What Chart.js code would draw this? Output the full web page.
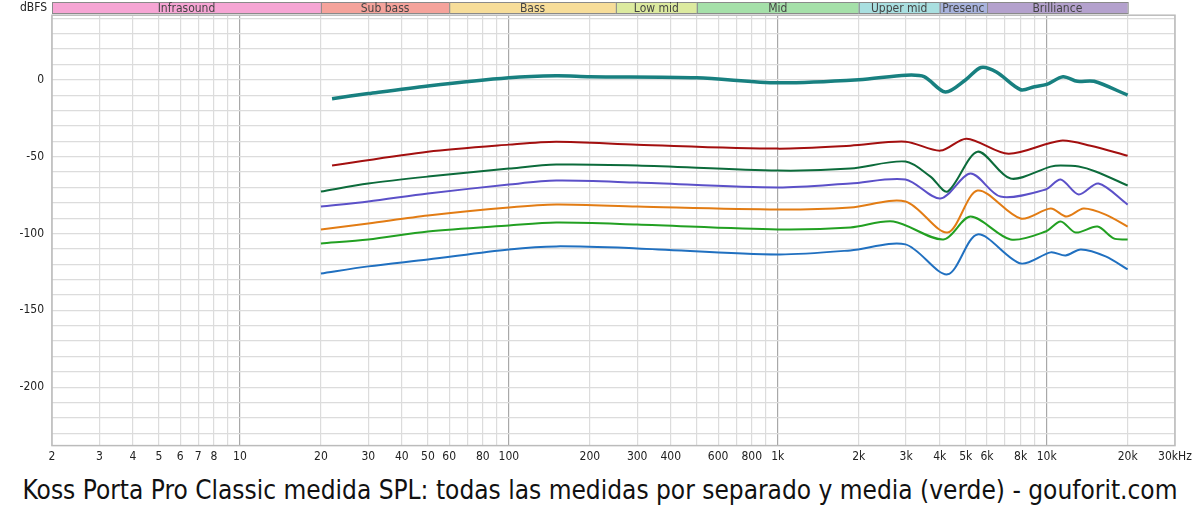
<!DOCTYPE html>
<html><head><meta charset="utf-8">
<script src="https://cdn.jsdelivr.net/npm/chart.js@4/dist/chart.umd.min.js"></script>
<style>
html,body{margin:0;padding:0;background:#fff;}
#wrap{position:relative;width:1200px;height:511px;}
#title{position:absolute;left:0;top:475px;width:1200px;text-align:center;font-family:"DejaVu Sans Condensed","DejaVu Sans";font-size:26px;color:#111;white-space:nowrap;}
</style></head><body>
<div id="wrap"><canvas id="c" width="1200" height="470"></canvas>
<div id="title">Koss Porta Pro Classic medida SPL: todas las medidas por separado y media (verde) - gouforit.com</div></div>
<script>
const xTickLabels = {2:'2',3:'3',4:'4',5:'5',6:'6',7:'7',8:'8',10:'10',20:'20',30:'30',40:'40',50:'50',60:'60',80:'80',100:'100',200:'200',300:'300',400:'400',600:'600',800:'800',1000:'1k',2000:'2k',3000:'3k',4000:'4k',5000:'5k',6000:'6k',8000:'8k',10000:'10k',20000:'20k',30000:'30kHz'};
const bandNames = ['Infrasound','Sub bass','Bass','Low mid','Mid','Upper mid','Presenc','Brilliance'];
const bandEdges = [2,20,60,250,500,2000,4000,6000,20000];
const bandColors = ['#f6a5d4','#f5a39b','#f7dd99','#dcea9f','#a5e0a9','#a9dfe0','#a8b3dd','#b4a1cd'];

const meanFreq = [22,30,50,100,150,200,500,1000,2000,3000,3500,4200,5000,5700,6500,8000,9000,10000,11500,13000,15000,20000];
const meanDb   = [-12.3,-9,-4,1.3,2.6,2,1.3,-2,0,3,2,-8,0,8,5,-6.5,-4.5,-3,2,-1,-1,-10];

const redFreq = [22,50,100,150,300,1000,1862,2985,4027,5035,7210,11270,14560,20000];
const redDb   = [-55.8,-46.8,-42.2,-40.3,-42.2,-44.8,-42.9,-40.3,-46.1,-38.3,-48.1,-39.6,-42.9,-49.4];

const dgFreq = [20,30,50,100,150,300,1000,1862,2985,3698,4278,5530,7340,10350,11270,13150,15200,20000];
const dgDb   = [-72.7,-67.5,-63,-57.8,-55.2,-55.8,-59.1,-57.8,-53.2,-63,-72.7,-46.8,-64.3,-56.5,-55.8,-56.5,-59.7,-68.8];

const puFreq = [20,30,50,100,150,300,1000,1862,2985,4027,5210,6730,9910,11270,13150,15580,20000];
const puDb   = [-82.5,-79.2,-74,-68.2,-65.6,-66.9,-70.1,-67.5,-64.9,-77.3,-61,-76,-71.4,-64.9,-74.7,-67.5,-81.2];

const orFreq = [20,30,50,100,150,300,1000,1862,2985,4278,5530,8000,10350,11850,13710,16560,20000];
const orDb   = [-97.4,-93.5,-88.3,-83.1,-81.2,-82.5,-84.4,-83.1,-79.2,-99.4,-72.1,-90.3,-83.8,-89,-83.8,-87.7,-95.5];

const grFreq = [20,30,50,100,150,300,1000,1862,2692,4130,5210,7340,9910,11270,12820,15450,17740,20000];
const grDb   = [-106.5,-103.9,-98.7,-94.8,-92.9,-94.2,-97.4,-96.1,-92.2,-103.9,-89,-103.9,-98.7,-92.2,-99.4,-95.5,-103.2,-103.9];

const blFreq = [20,30,50,100,150,300,1000,1862,2985,4278,5530,8000,10350,11750,13400,16560,20000];
const blDb   = [-126,-121.4,-116.9,-110.4,-108.4,-109.7,-113.6,-111,-107.1,-126.6,-100.6,-119.5,-112.3,-114.3,-110.4,-114.9,-123.4];

function pts(f,d){return f.map((v,i)=>({x:v,y:d[i]}));}
function ds(f,d,c,w){return {data:pts(f,d),borderColor:c,borderWidth:w,pointRadius:0,tension:0.3,fill:false};}

const bandPlugin = {
  id:'bands',
  afterDraw(chart){
    const ctx=chart.ctx, xs=chart.scales.x, a=chart.chartArea;
    ctx.save();
    ctx.font='12px "DejaVu Sans Condensed","DejaVu Sans"';
    ctx.textAlign='center';ctx.textBaseline='middle';
    for(let i=0;i<bandNames.length;i++){
      const x0=xs.getPixelForValue(bandEdges[i]), x1=xs.getPixelForValue(bandEdges[i+1]);
      ctx.fillStyle=bandColors[i];ctx.fillRect(x0,2,x1-x0,12);
      ctx.strokeStyle='#8a8a8a';ctx.lineWidth=1;ctx.strokeRect(x0+0.5,2.5,x1-x0,11);
      ctx.fillStyle='#444';
      ctx.save();ctx.beginPath();ctx.rect(x0,2,x1-x0,12);ctx.clip();
      ctx.fillText(bandNames[i],(x0+x1)/2,8.5);ctx.restore();
    }
    ctx.fillStyle='#222';ctx.textAlign='right';
    ctx.fillText('dBFS',47,8);
    ctx.strokeStyle='#bbb';ctx.lineWidth=1.5;
    ctx.strokeRect(a.left,a.top,a.right-a.left,a.bottom-a.top);
    ctx.restore();
  }
};

new Chart(document.getElementById('c'),{
  type:'line',
  data:{datasets:[
    ds(redFreq,redDb,'#a30f0f',2),
    ds(dgFreq,dgDb,'#0c6b3b',2),
    ds(puFreq,puDb,'#5b50c8',2),
    ds(orFreq,orDb,'#e27c14',2),
    ds(grFreq,grDb,'#22a022',2),
    ds(blFreq,blDb,'#2070c0',2),
    ds(meanFreq,meanDb,'#188080',3.5)
  ]},
  options:{
    responsive:false,animation:false,
    layout:{padding:{left:0,right:25,top:14,bottom:2}},
    plugins:{legend:{display:false},tooltip:{enabled:false}},
    scales:{
      x:{type:'logarithmic',min:2,max:30000,
        afterBuildTicks(s){const t=[];for(let d=1;d<=10000;d*=10){for(let m=1;m<10;m++){const v=m*d;if(v>=2&&v<=30000)t.push({value:v});}}s.ticks=t;},
        ticks:{autoSkip:false,maxRotation:0,color:'#222',font:{size:12,family:'"DejaVu Sans Condensed","DejaVu Sans"'},padding:4,
          callback(v){return xTickLabels[v]||'';}},
        grid:{color(c){const v=c.tick&&c.tick.value;const l=Math.log10(v);return Math.abs(l-Math.round(l))<1e-6?'#a8a8a8':'#dcdcdc';},lineWidth:1.2,drawTicks:false},
        border:{display:false}
      },
      y:{min:-238,max:42,
        afterBuildTicks(s){const t=[];for(let v=40;v>=-230;v-=10)t.push({value:v});s.ticks=t;},
        afterFit(s){s.width=52;},
        ticks:{autoSkip:false,color:'#222',font:{size:12,family:'"DejaVu Sans Condensed","DejaVu Sans"'},padding:8,
          callback(v){return v%50===0?String(v):'';}},
        grid:{color:'#dcdcdc',lineWidth:1.2,drawTicks:false},
        border:{display:false}
      }
    }
  },
  plugins:[bandPlugin]
});
</script></body></html>
